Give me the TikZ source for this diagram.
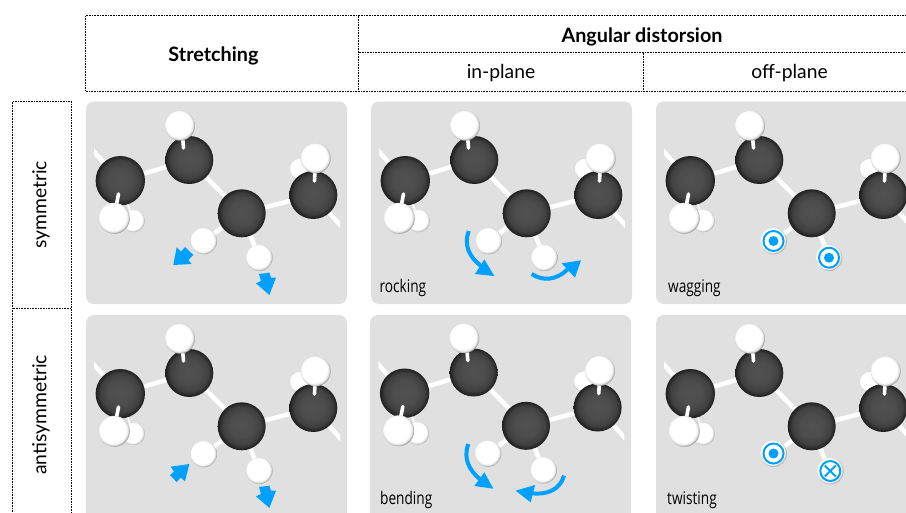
\documentclass[tikz,border=0pt]{standalone}
\usepackage{fontspec}
\setmainfont{Lato}
\newfontfamily\narrowfont[FakeStretch=0.78]{Open Sans}
\definecolor{panelgray}{HTML}{E0E0E0}
\definecolor{arrowblue}{HTML}{00A0FF}
\pgfdeclareradialshading{cball}{\pgfpoint{0bp}{1bp}}{
  color(0bp)=(black!68); color(12bp)=(black!70); color(20bp)=(black!75); color(25bp)=(black!88); color(50bp)=(black!88)}
\pgfdeclareradialshading{hball}{\pgfpoint{-4bp}{4bp}}{
  color(0bp)=(white); color(21bp)=(white); color(24bp)=(black!10); color(26.5bp)=(black!42); color(50bp)=(black!42)}
\tikzset{
  tablerule/.style={draw=black,line width=0.7pt,dash pattern=on 0.8pt off 0.8pt},
  panel/.style={fill=panelgray,rounded corners=8pt},
  bond/.style={draw=white,line width=4.5pt},
  stub/.style={draw=white,line width=3.6pt,line cap=round},
  carbon/.style={shading=cball},
  hydrogen/.style={shading=hball},
  headtext/.style={font=\fontsize{19.8}{22}\selectfont\bfseries,inner sep=0pt,text=black},
  subtext/.style={font=\fontsize{19.3}{22}\selectfont,inner sep=0pt,text=black},
  tagtext/.style={font=\fontsize{17.5}{20}\narrowfont,inner sep=0pt,anchor=base west,text=black},
  bluefill/.style={fill=arrowblue},
  bluecurve/.style={draw=arrowblue,line width=4pt},
}
\newcommand{\molbase}[1]{%
  \begin{scope}[shift={#1}]
    \begin{scope}
      \clip (94,140) rectangle (340,270);
      \draw[bond] (86,143) -- (120.3,180.7) -- (189.3,160) -- (241.7,213.3) -- (313.3,195) -- (350,236);
    \end{scope}
    \draw[bond] (241.7,213.3) -- (203.7,241);
    \draw[bond] (241.7,213.3) -- (259.3,257.7);
    \draw[draw=white,line width=1.5pt] (125,195) -- (133,220);
    \shade[hydrogen] (133.3,220.7) circle (11.5);
    \shade[hydrogen] (300,169) circle (10.5);
    \shade[carbon] (120.3,180.7) circle (24.7);
    \shade[carbon] (189.3,160) circle (24);
    \shade[carbon] (241.7,213.3) circle (24);
    \shade[carbon] (313.3,195) circle (24);
    \draw[stub] (118.5,194) -- (114.5,215);
    \draw[stub] (183.5,148) -- (182,130);
    \draw[stub] (314.5,181) -- (315.5,160);
    \shade[hydrogen] (114.3,218.3) circle (15.5);
    \shade[hydrogen] (180,125.7) circle (15);
    \shade[hydrogen] (315.7,158.3) circle (15);
  \end{scope}}
\newcommand{\tipballs}[1]{%
  \begin{scope}[shift={#1}]
    \shade[hydrogen] (203.7,241) circle (13.3);
    \shade[hydrogen] (259.3,257.7) circle (13.3);
  \end{scope}}
\newcommand{\dotmark}[1]{%
  \begin{scope}[shift={#1}]
    \shade[hydrogen] (0,0) circle (13.3);
    \draw[draw=arrowblue,line width=2pt] (0,0) circle (10);
    \fill[bluefill] (0,0) circle (5);
  \end{scope}}
\newcommand{\crossmark}[1]{%
  \begin{scope}[shift={#1}]
    \shade[hydrogen] (0,0) circle (13.3);
    \draw[draw=arrowblue,line width=2pt] (0,0) circle (10);
    \draw[draw=arrowblue,line width=2pt] (-5.5,-5.5) -- (5.5,5.5) (-5.5,5.5) -- (5.5,-5.5);
  \end{scope}}
\begin{document}
\begin{tikzpicture}[x=1pt,y=-1pt]
\useasboundingbox (0,0) rectangle (906,512);
\clip (0,0) rectangle (906,512);
% table
\draw[tablerule] (920,15.5) -- (85.5,15.5) -- (85.5,91) -- (920,91);
\draw[tablerule] (358.5,15.5) -- (358.5,91);
\draw[tablerule] (358.5,52.5) -- (920,52.5);
\draw[tablerule] (643.5,52.5) -- (643.5,91);
\draw[tablerule] (12.5,520) -- (12.5,101.5) -- (71.5,101.5) -- (71.5,520);
\draw[tablerule] (12.5,308.5) -- (71.5,308.5);
\node[headtext] (stretch) at (213.5,55.5) {Stretching};
\node[headtext] (angular) at (642,36.5) {Angular distorsion};
\node[subtext] (inpl) at (501,73.5) {in-plane};
\node[subtext] (offpl) at (789.5,73.5) {off-plane};
\node[subtext,rotate=90] (sym) at (41,205) {symmetric};
\node[subtext,rotate=90] (asym) at (41,415) {antisymmetric};
% panels
\fill[panel] (86,101.5) rectangle (347,304);
\fill[panel] (371,101.5) rectangle (632,304);
\fill[panel] (656,101.5) rectangle (925,304);
\fill[panel] (86,315) rectangle (347,530);
\fill[panel] (370,315) rectangle (631,530);
\fill[panel] (656,315) rectangle (925,530);
% molecules
\molbase{(0,0)} \tipballs{(0,0)}
\molbase{(285,0)} \tipballs{(285,0)}
\molbase{(570,0)}
\molbase{(0,213)} \tipballs{(0,213)}
\molbase{(284.3,212.5)} \tipballs{(284.3,212.5)}
\molbase{(570,213)}
% stretching arrows
\begin{scope}[shift={(80,95)},scale=1/3]
  \fill[bluefill] (280,510) -- (290,457) -- (303,470) -- (315,456) -- (340,480) -- (325,495) -- (335,507) -- cycle;
  \fill[bluefill] (568,600) -- (528,565) -- (543,558) -- (537,537) -- (568,533) -- (573,548) -- (588,548) -- cycle;
\end{scope}
\begin{scope}[shift={(150,440)},scale=1/3]
  \fill[bluefill] (118,72) -- (62,80) -- (72,95) -- (60,105) -- (80,126) -- (92,113) -- (105,124) -- cycle;
\end{scope}
\begin{scope}[shift={(80,308)},scale=1/3]
  \fill[bluefill] (568,600) -- (528,565) -- (543,558) -- (537,537) -- (568,533) -- (573,548) -- (588,548) -- cycle;
\end{scope}
% rocking arrows
\begin{scope}[shift={(365,200)},scale=1/3]
  \draw[bluecurve] (311,93) .. controls (296,135) and (312,170) .. (348,198);
  \fill[bluefill] (388,228) -- (330,222) -- (358,178) -- cycle;
  \draw[bluecurve] (500,222) .. controls (535,245) and (575,240) .. (608,208);
  \fill[bluefill] (648,181) -- (590,190) -- (630,233) -- cycle;
\end{scope}
% bending arrows
\begin{scope}[shift={(365,410)},scale=1/3]
  \draw[bluecurve] (310,102) .. controls (294,145) and (312,180) .. (345,208);
  \fill[bluefill] (385,236) -- (328,228) -- (358,187) -- cycle;
  \draw[bluecurve] (597,197) .. controls (585,240) and (545,255) .. (500,250);
  \fill[bluefill] (452,242) -- (510,225) -- (497,277) -- cycle;
\end{scope}
% out-of-plane marks
\dotmark{(773.5,241)} \dotmark{(829,257.7)}
\dotmark{(773.5,453.5)} \crossmark{(830.3,471)}
% labels
\node[tagtext] (rock) at (379.5,292) {rocking};
\node[tagtext] (wag) at (668,292) {wagging};
\node[tagtext] (bend) at (380,504) {bending};
\node[tagtext] (twist) at (667,504) {twisting};
\end{tikzpicture}
\end{document}
